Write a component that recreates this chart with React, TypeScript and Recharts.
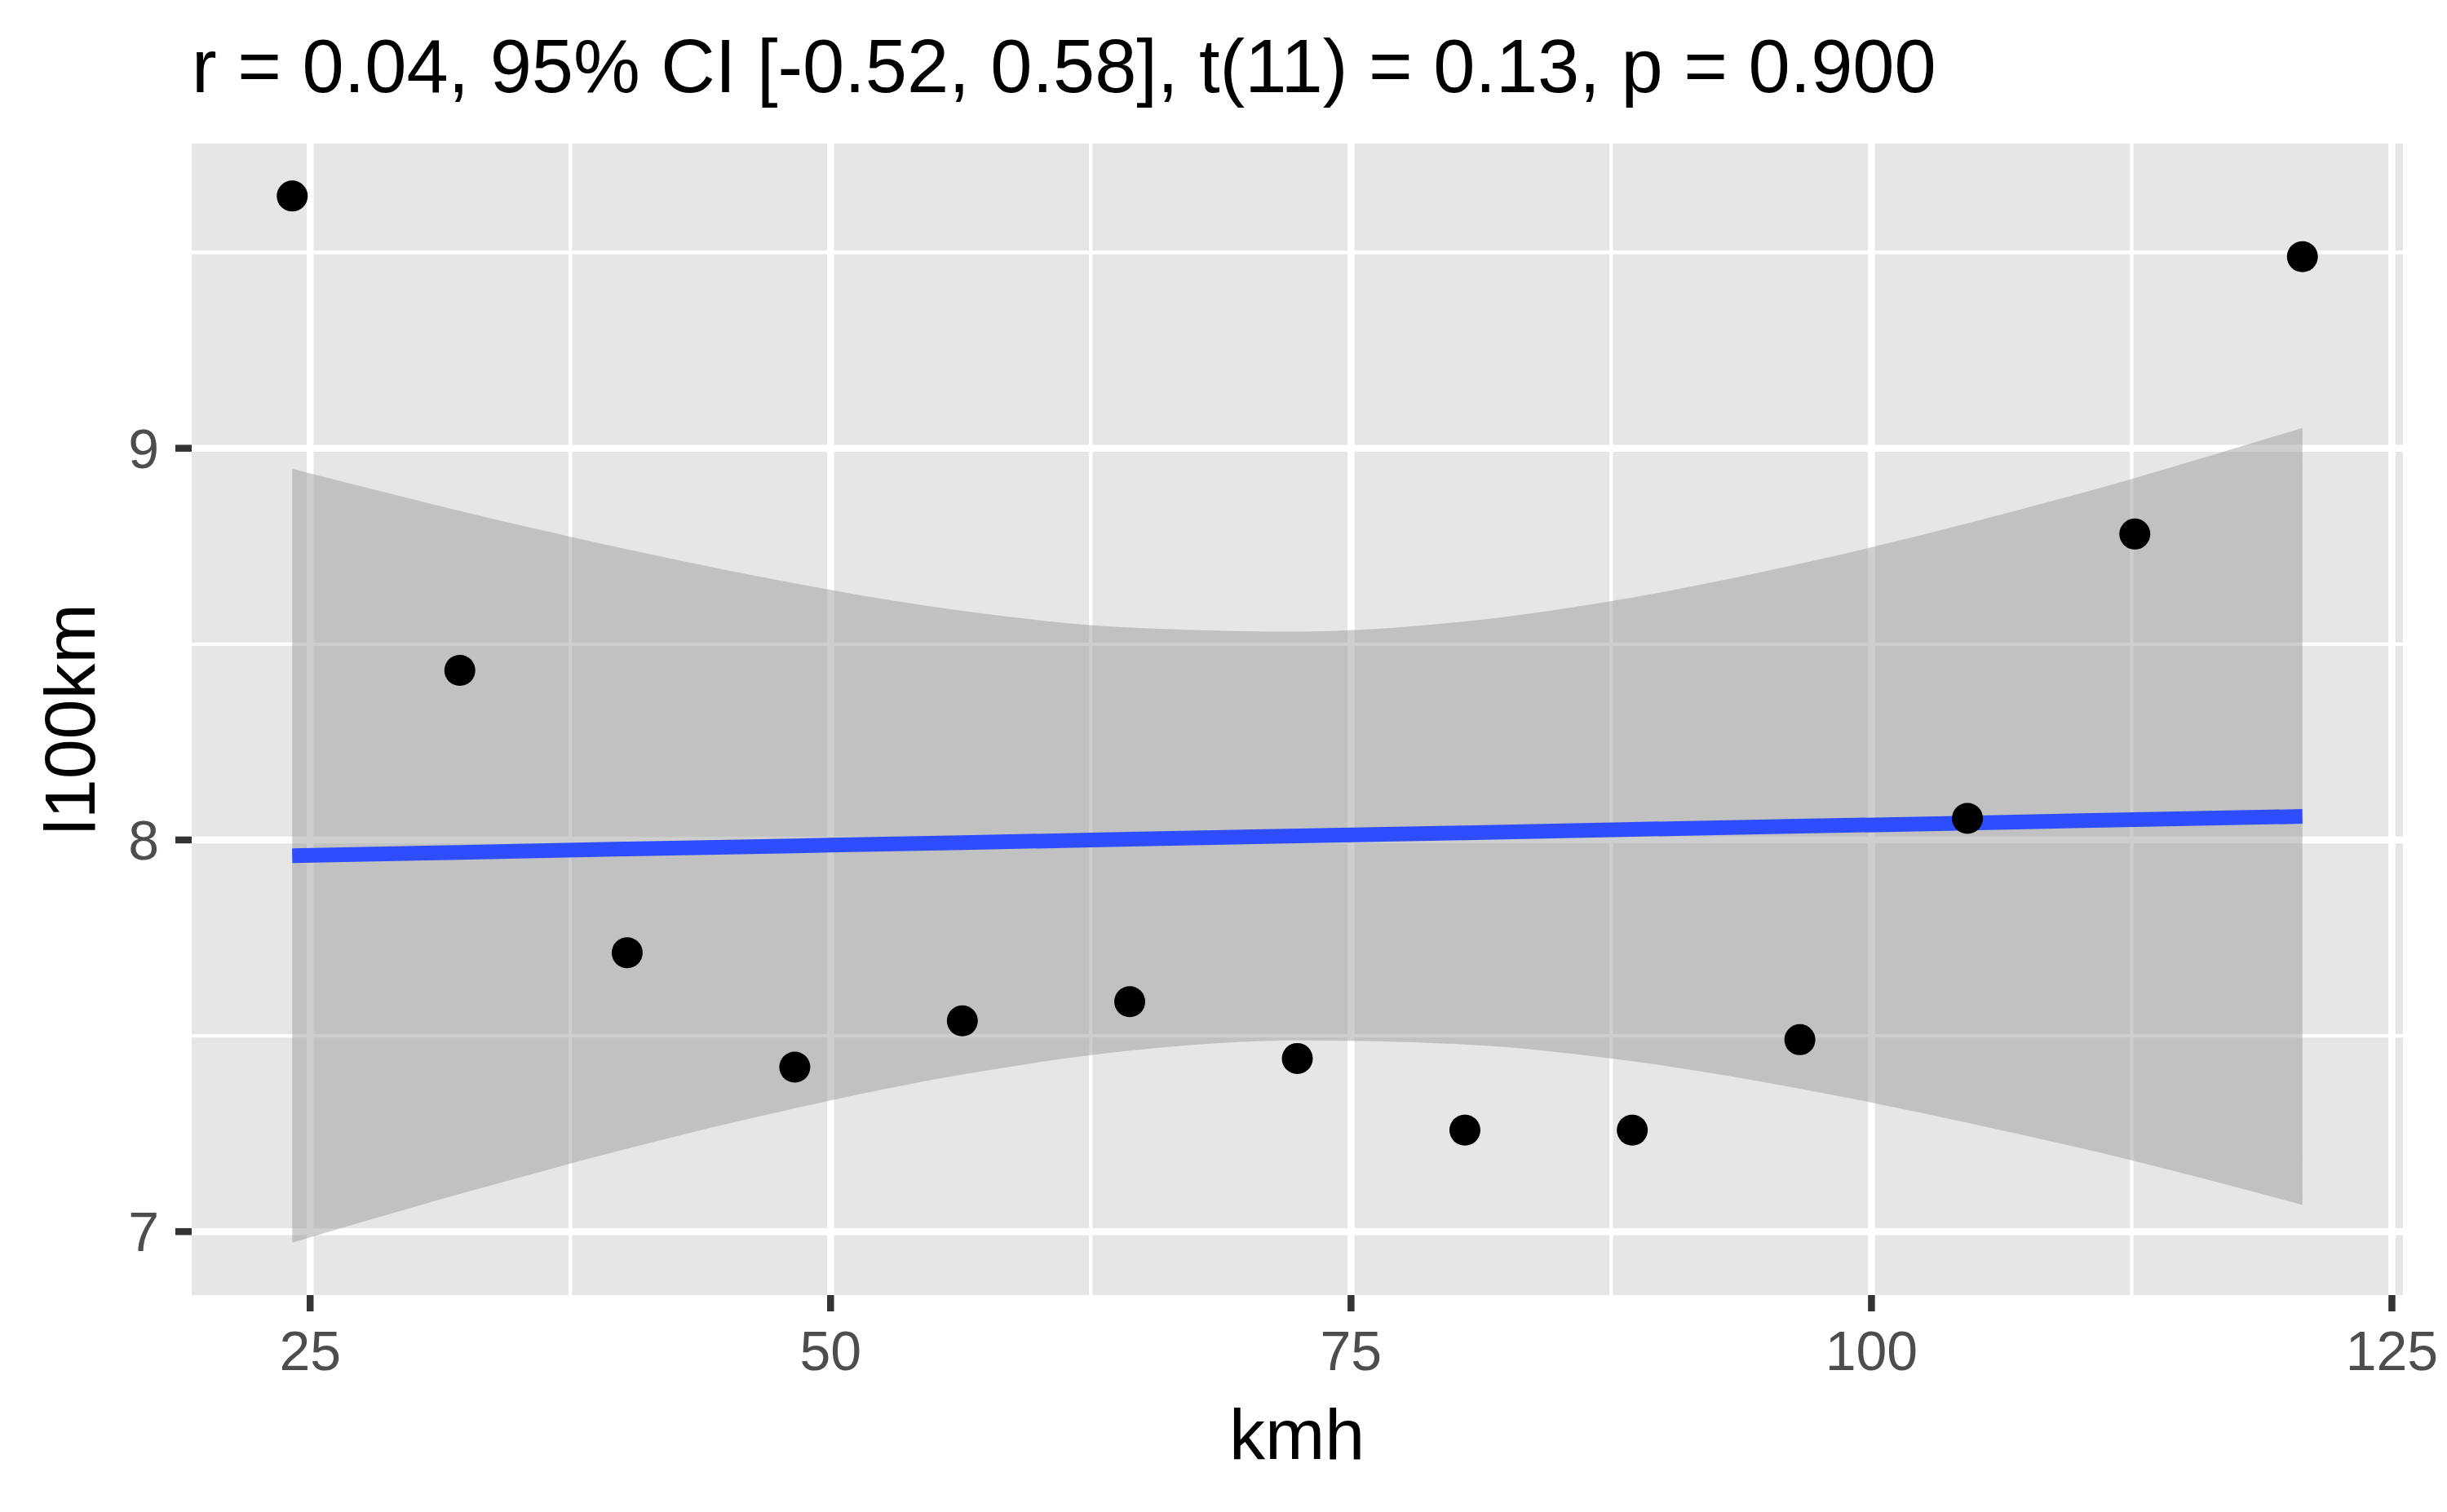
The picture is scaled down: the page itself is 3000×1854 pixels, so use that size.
import React from 'react';
import {
  ComposedChart,
  Area,
  Line,
  Scatter,
  XAxis,
  YAxis,
  CartesianGrid,
} from 'recharts';

// speeds (km/h) and fuel use (l/100km)
const kmh = [24.14, 32.19, 40.23, 48.28, 56.33, 64.37, 72.42, 80.47, 88.51, 96.56, 104.61, 112.65, 120.7];
const l100km = [9.644, 8.433, 7.712, 7.42, 7.538, 7.587, 7.442, 7.259, 7.259, 7.49, 8.055, 8.781, 9.489];

// lm fit and its 95% band at the same speeds
const fitLine = [7.96, 7.968, 7.977, 7.985, 7.993, 8.002, 8.01, 8.018, 8.027, 8.035, 8.043, 8.052, 8.06];
const ciLow = [6.972, 7.096, 7.212, 7.315, 7.401, 7.462, 7.488, 7.478, 7.435, 7.365, 7.278, 7.18, 7.068];
const ciHigh = [8.948, 8.84, 8.742, 8.655, 8.585, 8.542, 8.532, 8.558, 8.619, 8.705, 8.808, 8.924, 9.052];

const xTicks = [25, 50, 75, 100, 125];
const xMinor = [37.5, 62.5, 87.5, 112.5];
const yTicks = [7, 8, 9];
const yMinor = [7.5, 8.5, 9.5];

const title = 'r = 0.04, 95% CI [-0.52, 0.58], t(11) = 0.13, p = 0.900';

const data = kmh.map((x, i) => ({
  x,
  y: l100km[i],
  fit: fitLine[i],
  band: [ciLow[i], ciHigh[i]],
}));

const font = '"Liberation Sans", Arial, sans-serif';
const W = 3000;
const H = 1854;

const Dot = (props: any) => <circle cx={props.cx} cy={props.cy} r={19} fill="#000000" />;

export default function App() {
  return (
    <div style={{ position: 'absolute', left: 0, top: 0, width: W, height: H, background: '#ffffff' }}>
      <ComposedChart
        width={W}
        height={H}
        data={data}
        margin={{ top: 176, right: 54, bottom: 0, left: 0 }}
      >
        <CartesianGrid
          fill="#E6E6E6"
          stroke="#FFFFFF"
          strokeWidth={4.3}
          horizontalValues={yMinor}
          verticalValues={xMinor}
        />
        <CartesianGrid
          stroke="#FFFFFF"
          strokeWidth={8.5}
          horizontalValues={yTicks}
          verticalValues={xTicks}
        />
        <XAxis
          dataKey="x"
          type="number"
          domain={[19.31, 125.53]}
          ticks={xTicks}
          interval={0}
          allowDataOverflow
          axisLine={false}
          tickLine={{ stroke: '#333333', strokeWidth: 8.5 }}
          tickSize={20}
          tickMargin={24}
          tick={{ fill: '#4D4D4D', fontSize: 68, fontFamily: font }}
          height={266}
        />
        <YAxis
          type="number"
          domain={[6.838, 9.778]}
          ticks={yTicks}
          interval={0}
          allowDataOverflow
          axisLine={false}
          tickLine={{ stroke: '#333333', strokeWidth: 8.5 }}
          tickSize={20}
          tickMargin={20}
          tick={{ fill: '#4D4D4D', fontSize: 68, fontFamily: font }}
          width={235}
        />
        <Area
          dataKey="band"
          type="monotone"
          stroke="none"
          fill="#999999"
          fillOpacity={0.48}
          isAnimationActive={false}
        />
        <Line
          dataKey="fit"
          type="linear"
          stroke="#2E4DFF"
          strokeWidth={18}
          dot={false}
          activeDot={false}
          isAnimationActive={false}
        />
        <Scatter dataKey="y" shape={Dot} isAnimationActive={false} />
      </ComposedChart>
      <svg
        width={W}
        height={H}
        style={{ position: 'absolute', left: 0, top: 0, pointerEvents: 'none' }}
      >
        <text x={235} y={113} fontSize={92} fontFamily={font} fill="#000000">
          {title}
        </text>
        <text x={1590} y={1789} fontSize={88} fontFamily={font} fill="#000000" textAnchor="middle">
          kmh
        </text>
        <text
          x={116}
          y={882}
          fontSize={88}
          fontFamily={font}
          fill="#000000"
          textAnchor="middle"
          transform="rotate(-90, 116, 882)"
        >
          l100km
        </text>
      </svg>
    </div>
  );
}
